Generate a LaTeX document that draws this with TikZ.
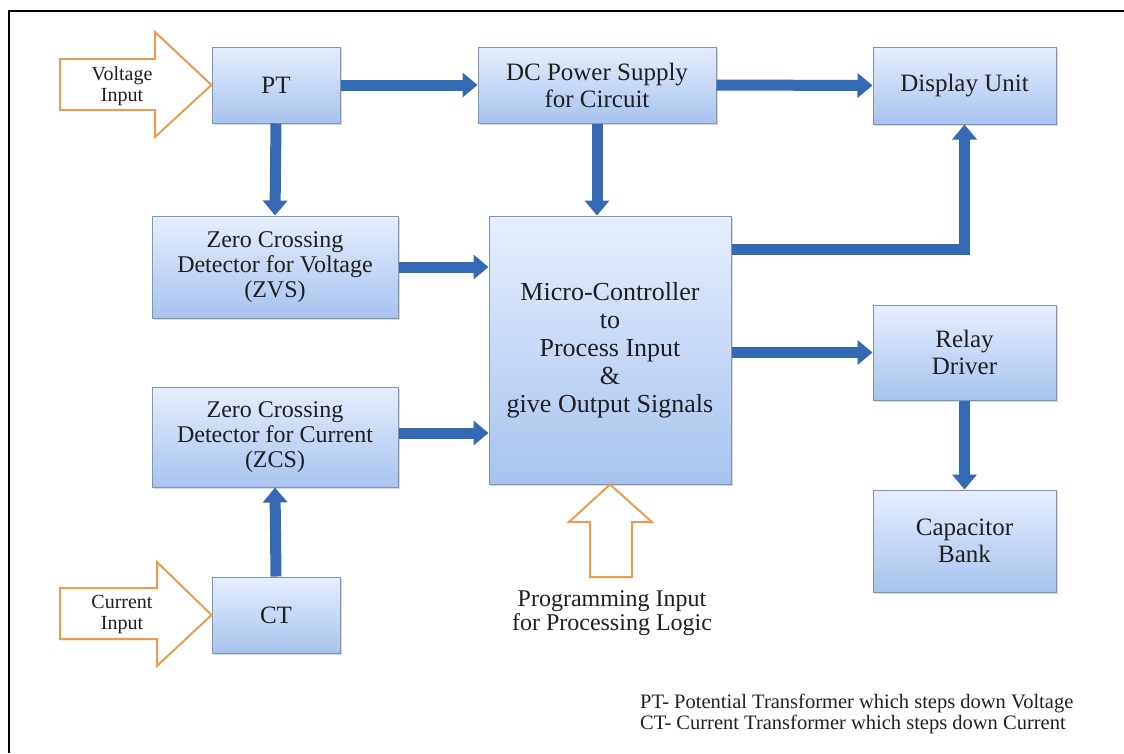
\documentclass[tikz,border=0pt]{standalone}
\usepackage{fontspec}
\setmainfont{Liberation Serif}
\usetikzlibrary{arrows.meta,shadows}

\definecolor{boxtop}{HTML}{E6EEFC}
\definecolor{boxbot}{HTML}{A8C3EF}
\definecolor{boxline}{HTML}{8194B2}
\definecolor{flow}{HTML}{336AB3}
\definecolor{feed}{HTML}{EE9B50}

\tikzset{
	block/.style={draw=boxline, line width=1pt, top color=boxtop, bottom color=boxbot,
		drop shadow={shadow xshift=1.5pt, shadow yshift=-1.5pt, opacity=0.3},
		align=center, inner sep=0pt, text=black!88, font=\fontsize{25}{27}\selectfont},
	flowarrow/.style={draw=flow, line width=11pt, -{Triangle[width=24pt,length=15pt]}},
	feedarrow/.style={draw=feed, line width=2pt, fill=white, line join=miter},
	feedtext/.style={align=center, inner sep=0pt, text=black!88, font=\fontsize{20}{21}\selectfont},
}

\begin{document}
\begin{tikzpicture}[x=1pt, y=-1pt]
	\useasboundingbox (0,0) rectangle (1124,753);

	% frame
	\draw [line width=2pt] (9,753) -- (9,11) -- (1124,11);

	% blocks
	\node[block, minimum width=128pt, minimum height=76pt] (pt) at (276,85) {PT};
	\node[block, minimum width=238pt, minimum height=76pt] (dc) at (597,85) {DC Power Supply\\for Circuit};
	\node[block, minimum width=183pt, minimum height=77pt] (disp) at (964.5,85.5) {Display Unit};
	\node[block, minimum width=246pt, minimum height=102pt, font=\fontsize{24}{25}\selectfont] (zvs) at (275,267) {Zero Crossing\\Detector for Voltage\\(ZVS)};
	\node[block, minimum width=242pt, minimum height=268pt, font=\fontsize{26}{28}\selectfont] (mc) at (610,350) {Micro-Controller\\to\\Process Input\\\&\\give Output Signals};
	\node[block, minimum width=246pt, minimum height=100pt, font=\fontsize{24}{25}\selectfont] (zcs) at (275,437) {Zero Crossing\\Detector for Current\\(ZCS)};
	\node[block, minimum width=128pt, minimum height=76pt] (ct) at (276,615) {CT};
	\node[block, minimum width=183pt, minimum height=95pt] (relay) at (964.5,352.5) {Relay\\Driver};
	\node[block, minimum width=183pt, minimum height=102pt] (cap) at (964.5,541) {Capacitor\\Bank};

	% signal flow
	\draw [flowarrow] (pt.east) -- (dc.west);
	\draw [flowarrow] (dc.east) -- (disp.west);
	\draw [flowarrow] (pt.south) -- (zvs.north);
	\draw [flowarrow] (dc.south) -- (dc.south |- mc.north);
	\draw [flowarrow] (zvs.east) -- (zvs.east -| mc.west);
	\draw [flowarrow] ([yshift=4pt]zcs.east) -- ([yshift=4pt]zcs.east -| mc.west);
	\draw [flowarrow] ([yshift=-34pt]mc.north east) -| (disp.south);
	\draw [flowarrow] (mc.east |- relay.west) -- (relay.west);
	\draw [flowarrow] (relay.south) -- (cap.north);
	\draw [flowarrow] (ct.north) -- (zcs.south);

	% external inputs
	\draw [feedarrow] (60,59) -- (155,59) -- (155,32) -- (pt.west) -- (155,137) -- (155,110) -- (60,110) -- cycle;
	\node[feedtext] (vin) at (122,86) {Voltage\\Input};
	\draw [feedarrow] (60,588) -- (157,588) -- (157,562) -- (ct.west) -- (157,666) -- (157,639) -- (60,639) -- cycle;
	\node[feedtext] (cin) at (122,614) {Current\\Input};
	\draw [feedarrow] (590,577) -- (590,522) -- (569,522) -- (mc.south) -- (652,522) -- (632,522) -- (632,577) -- cycle;
	\node[feedtext, font=\fontsize{24}{24}\selectfont] (prog) at (612,613) {Programming Input\\for Processing Logic};

	% legend
	\node[feedtext, align=left, anchor=west, font=\fontsize{20.5}{21}\selectfont] (legend) at (640,714) {PT- Potential Transformer which steps down Voltage\\CT- Current Transformer which steps down Current};
\end{tikzpicture}
\end{document}
